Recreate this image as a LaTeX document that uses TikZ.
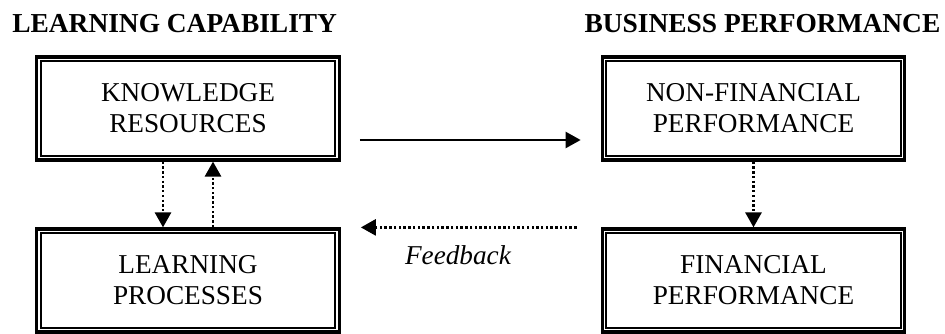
\documentclass[tikz,border=0pt]{standalone}
\usepackage{fontspec}
\setmainfont{Liberation Serif}
\usetikzlibrary{arrows.meta, positioning, calc}

\begin{document}
\begin{tikzpicture}[>={Triangle[width=9pt,length=8.5pt]},
		box/.style={draw, line width=1.8pt, minimum width=6.05cm, minimum height=2.06cm, align=center, font=\fontsize{15.5}{17.5}\selectfont},
		heading/.style={font=\bfseries\fontsize{15.6}{17}\selectfont},
		dots/.style={line width=1.7pt, dash pattern=on 1.4pt off 1.3pt}]
	\useasboundingbox (0,0) rectangle (18.9,6.68);

	% headings
	\node[heading, anchor=west, inner sep=0pt] (lc) at (0.24,6.2) {LEARNING CAPABILITY};
	\node[heading] (bp) at (15.25,6.2) {BUSINESS PERFORMANCE};

	% boxes
	\node[box] (kr) at (3.76,4.51) {KNOWLEDGE\\RESOURCES};
	\node[box] (lp) at (3.76,1.07) {LEARNING\\PROCESSES};
	\node[box] (nf) at (15.07,4.51) {NON-FINANCIAL\\PERFORMANCE};
	\node[box] (fp) at (15.07,1.07) {FINANCIAL\\PERFORMANCE};

	% inner frame of each box
	\foreach \n in {kr,lp,nf,fp}
		\draw[line width=1.1pt] ([shift={(0.11,-0.11)}]\n.north west) rectangle ([shift={(-0.11,0.11)}]\n.south east);

	% links
	\draw[->, line width=1.5pt] ([shift={(0.38,-0.63)}]kr.east) -- ([shift={(-0.4,-0.63)}]nf.west);
	\draw[->, dots] ([xshift=-0.5cm]kr.south) -- ([xshift=-0.5cm]lp.north);
	\draw[->, dots] ([xshift=0.5cm]lp.north) -- ([xshift=0.5cm]kr.south);
	\draw[->, dots] (nf.south) -- (fp.north);
	\draw[->, dots] ([xshift=-0.48cm]fp.north west) -- ([xshift=0.4cm]lp.north east)
		node[pos=0.55, below=0.22cm, font=\itshape\fontsize{15.5}{17}\selectfont] (fb) {Feedback};
\end{tikzpicture}
\end{document}
